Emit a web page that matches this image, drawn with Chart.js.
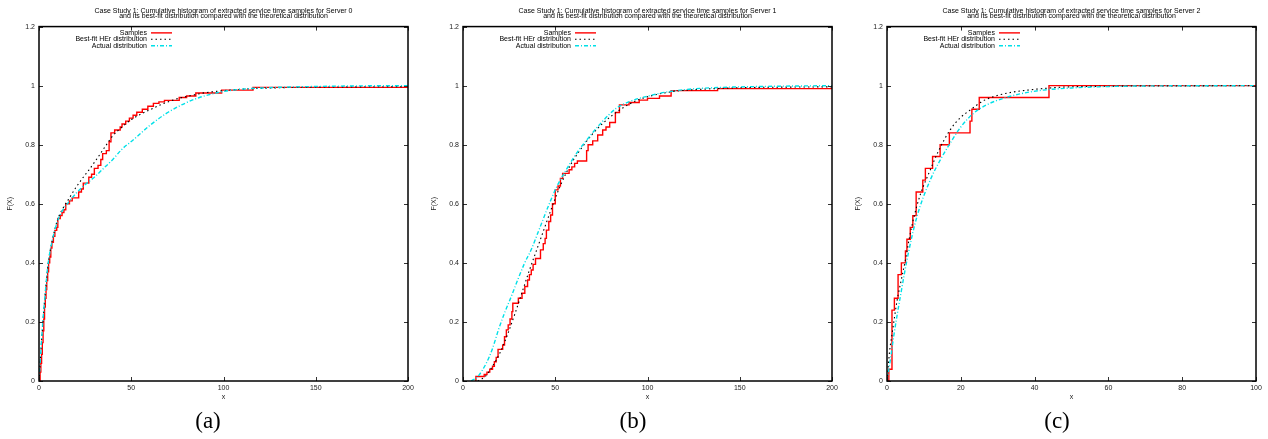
<!DOCTYPE html>
<html><head><meta charset="utf-8">
<script src="https://cdn.jsdelivr.net/npm/chart.js@4/dist/chart.umd.min.js"></script>
<style>
html,body{margin:0;padding:0;background:#fff;}
#wrap{position:relative;width:1268px;height:439px;overflow:hidden;background:#fff;}
.panel{position:absolute;top:0;width:424px;height:439px;}
.cap{position:absolute;top:408px;width:80px;text-align:center;font-family:"Liberation Serif","Times New Roman",serif;font-size:23px;line-height:26px;color:#000;}
</style></head>
<body><div id="wrap">
<canvas id="ca" class="panel" style="left:0px" width="424" height="439"></canvas>
<canvas id="cb" class="panel" style="left:424px" width="424" height="439"></canvas>
<canvas id="cc" class="panel" style="left:848px" width="424" height="439"></canvas>
<div class="cap" style="left:168px">(a)</div>
<div class="cap" style="left:593px">(b)</div>
<div class="cap" style="left:1017px">(c)</div>
</div>
<script>
// ---------- text ----------
const titleLine2 = 'and its best-fit distribution compared with the theoretical distribution';
const titlesLine1 = [
  'Case Study 1: Cumulative histogram of extracted service time samples for Server 0',
  'Case Study 1: Cumulative histogram of extracted service time samples for Server 1',
  'Case Study 1: Cumulative histogram of extracted service time samples for Server 2'
];
const seriesNames = ['Samples', 'Best-fit HEr distribution', 'Actual distribution'];
const xAxisTitle = 'x';
const yAxisTitle = 'F(X)';

// ---------- ticks ----------
const yTicks = [0, 0.2, 0.4, 0.6, 0.8, 1, 1.2];
const yTickLabels = ['0', '0.2', '0.4', '0.6', '0.8', '1', '1.2'];
const xTicksAB = [0, 50, 100, 150, 200];
const xTicksC = [0, 20, 40, 60, 80, 100];

// ---------- Server 0 ----------
const samplesA_x = [0.3,0.6,1.0,1.4,1.8,2.2,2.6,3.0,3.4,3.8,4.2,4.7,5.2,5.8,6.4,7.0,7.8,8.6,9.6,10.2,11.5,12.5,13.5,14.5,16.5,18,21.5,23,24,27,28.5,30,32,33.5,34.5,36.5,38,39,41,44,45,47,49,51,53,56,59,62,65,68,76,80,85,99,116,200];
const samplesA_y = [0,0.03,0.06,0.09,0.13,0.17,0.21,0.25,0.28,0.31,0.34,0.37,0.40,0.42,0.45,0.47,0.49,0.51,0.52,0.55,0.56,0.57,0.58,0.60,0.61,0.62,0.64,0.65,0.67,0.69,0.70,0.72,0.73,0.75,0.77,0.78,0.81,0.84,0.85,0.86,0.87,0.88,0.89,0.90,0.91,0.92,0.93,0.94,0.945,0.95,0.96,0.965,0.975,0.985,0.994,0.994];
const bestA_x = [0,1,2,3,4,5,7,10,13,16,20,24,27,30,33,36,40,45,50,55,60,67,74,82,90,100,110,125,150,175,200];
const bestA_y = [0,0.10,0.19,0.27,0.34,0.40,0.47,0.545,0.585,0.615,0.655,0.69,0.714,0.74,0.767,0.795,0.83,0.86,0.885,0.903,0.918,0.938,0.954,0.966,0.976,0.983,0.988,0.992,0.995,0.996,0.997];
const actualA_x = [0,1,2,3,4,5,7,10,13,16,20,25,30,35,40,45,51,60,69,78,87,96,105,120,140,170,200];
const actualA_y = [0,0.10,0.195,0.27,0.34,0.40,0.47,0.54,0.58,0.605,0.635,0.665,0.69,0.72,0.75,0.785,0.816,0.865,0.906,0.937,0.96,0.975,0.985,0.992,0.996,0.999,1.0];

// ---------- Server 1 ----------
const samplesB_x = [6.5,7,11.5,13,14.5,16,17,18,19,21.5,22.5,23.5,24.5,25.5,26.5,27,30,32,33.5,35,36,37,38,39.3,42,43.5,44.5,45.2,46.5,47.5,48.5,50,51.5,52.8,54,57.5,59,60.5,62,67,67.8,70.3,73,75.7,77.5,79.5,82.6,84.8,90,95.5,100,106.5,112.8,138,200];
const samplesB_y = [0,0.015,0.022,0.03,0.04,0.05,0.065,0.08,0.107,0.122,0.15,0.173,0.19,0.21,0.235,0.263,0.28,0.297,0.32,0.342,0.36,0.376,0.395,0.415,0.444,0.465,0.483,0.511,0.54,0.562,0.6,0.647,0.66,0.686,0.703,0.715,0.725,0.737,0.745,0.78,0.80,0.813,0.833,0.85,0.86,0.875,0.909,0.935,0.943,0.951,0.957,0.965,0.983,0.99,0.99];
const bestB_x = [8,12,16,20,24,28,32,36,40,44,48,52,56,60,65,70,75,81,88,95,105,115,130,150,175,200];
const bestB_y = [0,0.015,0.05,0.095,0.155,0.225,0.30,0.375,0.445,0.515,0.585,0.65,0.705,0.75,0.795,0.835,0.868,0.90,0.93,0.952,0.97,0.981,0.988,0.993,0.995,0.996];
const actualB_x = [4.4,8,12.6,16,19.2,22.5,26.1,29.5,33.3,37,41.4,46.9,51,55.9,62,68.5,75,83,91,99.2,110,122.7,140,170,200];
const actualB_y = [0,0.015,0.06,0.11,0.173,0.23,0.285,0.34,0.398,0.445,0.515,0.602,0.66,0.715,0.775,0.827,0.875,0.923,0.948,0.963,0.978,0.988,0.994,0.998,1.0];

// ---------- Server 2 ----------
const samplesC_x = [0.2,0.5,1.35,2.0,3.0,3.9,5.0,5.4,6.3,7.0,7.9,9.7,10.4,12.35,14.4,16.9,22.5,23,25,43.9,100];
const samplesC_y = [0,0.04,0.24,0.28,0.36,0.40,0.44,0.48,0.52,0.56,0.64,0.68,0.72,0.76,0.80,0.84,0.88,0.92,0.96,1.0,1.0];
const bestC_x = [0,0.7,1.5,2.7,4,5,6,7.2,9,11.7,14,17.1,20,22.6,26,29.7,34,38.8,47.8,60,80,100];
const bestC_y = [0,0.10,0.17,0.27,0.35,0.41,0.48,0.55,0.63,0.714,0.78,0.85,0.893,0.918,0.948,0.966,0.978,0.986,0.995,0.998,0.999,1.0];
const actualC_x = [0,1,1.8,3.6,5.9,8.1,11.7,14.5,17.1,20,23.4,27,31.5,36,42.4,50,57,70,100];
const actualC_y = [0,0.08,0.15,0.285,0.44,0.556,0.68,0.75,0.805,0.86,0.906,0.935,0.957,0.972,0.985,0.992,0.996,0.999,1.0];

// ---------- styling ----------
const FONT = '"Liberation Sans", Arial, Helvetica, sans-serif';
const RED = '#ff0000';
const BLACK = '#000000';
const CYAN = '#00e0e8';

function pts(xs, ys) { return xs.map((x, i) => ({ x: x, y: ys[i] })); }

const framePlugin = {
  id: 'gpFrame',
  afterDatasetsDraw(chart) {
    const { ctx, chartArea: a, scales } = chart;
    const x = scales.x, y = scales.y;
    ctx.save();
    ctx.strokeStyle = '#333';
    ctx.lineWidth = 1;
    ctx.beginPath();
    x.ticks.forEach(t => {
      const px = Math.round(x.getPixelForValue(t.value)) + 0.5;
      ctx.moveTo(px, a.bottom); ctx.lineTo(px, a.bottom - 4);
      ctx.moveTo(px, a.top); ctx.lineTo(px, a.top + 4);
    });
    y.ticks.forEach(t => {
      const py = Math.round(y.getPixelForValue(t.value)) + 0.5;
      ctx.moveTo(a.left, py); ctx.lineTo(a.left + 4, py);
      ctx.moveTo(a.right, py); ctx.lineTo(a.right - 4, py);
    });
    ctx.stroke();
    ctx.strokeStyle = '#000';
    ctx.lineWidth = 1.5;
    ctx.strokeRect(a.left, a.top, a.right - a.left, a.bottom - a.top);
    // inside legend: text right-aligned, sample line to the right
    ctx.font = '7px ' + FONT;
    ctx.fillStyle = '#000';
    ctx.textAlign = 'right';
    ctx.textBaseline = 'middle';
    chart.data.datasets.forEach((ds, i) => {
      const yy = a.top + 6.3 + i * 6.4;
      ctx.fillText(ds.label, a.left + 108, yy);
      ctx.save();
      ctx.strokeStyle = ds.borderColor;
      ctx.lineWidth = ds.borderWidth;
      ctx.setLineDash(ds.borderDash || []);
      ctx.beginPath();
      ctx.moveTo(a.left + 112, yy);
      ctx.lineTo(a.left + 133, yy);
      ctx.stroke();
      ctx.restore();
    });
    ctx.restore();
  }
};

function makeChart(id, title1, sx, sy, bx, by, axx, ay, xMax, xTicks) {
  return new Chart(document.getElementById(id), {
    type: 'line',
    data: {
      datasets: [
        { label: seriesNames[0], data: pts(sx, sy), borderColor: RED, borderWidth: 1.4, stepped: 'before', pointRadius: 0, fill: false, order: 3 },
        { label: seriesNames[1], data: pts(bx, by), borderColor: BLACK, borderWidth: 1.1, borderDash: [1.5, 3], cubicInterpolationMode: 'monotone', pointRadius: 0, fill: false, order: 2 },
        { label: seriesNames[2], data: pts(axx, ay), borderColor: CYAN, borderWidth: 1.4, borderDash: [4, 2, 1, 2], cubicInterpolationMode: 'monotone', pointRadius: 0, fill: false, order: 1 }
      ]
    },
    options: {
      responsive: false,
      animation: false,
      layout: { padding: { top: 0, right: 16, bottom: 0, left: 0 } },
      plugins: {
        legend: { display: false },
        tooltip: { enabled: false },
        title: {
          display: true,
          text: [title1, titleLine2],
          fullSize: false,
          color: '#000',
          font: { family: FONT, size: 7, weight: 'normal', lineHeight: 0.82 },
          padding: { top: 7.9, bottom: 7.2 }
        }
      },
      scales: {
        x: {
          type: 'linear', min: 0, max: xMax,
          afterFit: s => { s.height = 58; },
          afterBuildTicks: s => { s.ticks = xTicks.map(v => ({ value: v })); },
          grid: { display: false, drawTicks: false, tickLength: 0 }, border: { display: false },
          ticks: { color: '#222', padding: 3, maxRotation: 0, font: { family: FONT, size: 7 } },
          title: { display: true, text: xAxisTitle, color: '#222', font: { family: FONT, size: 7, lineHeight: 1 }, padding: { top: 0, bottom: 38.5 } }
        },
        y: {
          type: 'linear', min: 0, max: 1.2,
          afterFit: s => { s.width = 39; },
          afterBuildTicks: s => { s.ticks = yTicks.map(v => ({ value: v })); },
          grid: { display: false, drawTicks: false, tickLength: 0 }, border: { display: false },
          ticks: { color: '#222', padding: 4, font: { family: FONT, size: 7 },
                   callback: v => { const i = yTicks.indexOf(v); return i >= 0 ? yTickLabels[i] : ''; } },
          title: { display: true, text: yAxisTitle, color: '#222', font: { family: FONT, size: 7, lineHeight: 1 }, padding: { top: 6.5, bottom: 0 } }
        }
      }
    },
    plugins: [framePlugin]
  });
}

makeChart('ca', titlesLine1[0], samplesA_x, samplesA_y, bestA_x, bestA_y, actualA_x, actualA_y, 200, xTicksAB);
makeChart('cb', titlesLine1[1], samplesB_x, samplesB_y, bestB_x, bestB_y, actualB_x, actualB_y, 200, xTicksAB);
makeChart('cc', titlesLine1[2], samplesC_x, samplesC_y, bestC_x, bestC_y, actualC_x, actualC_y, 100, xTicksC);
</script>
</body></html>
